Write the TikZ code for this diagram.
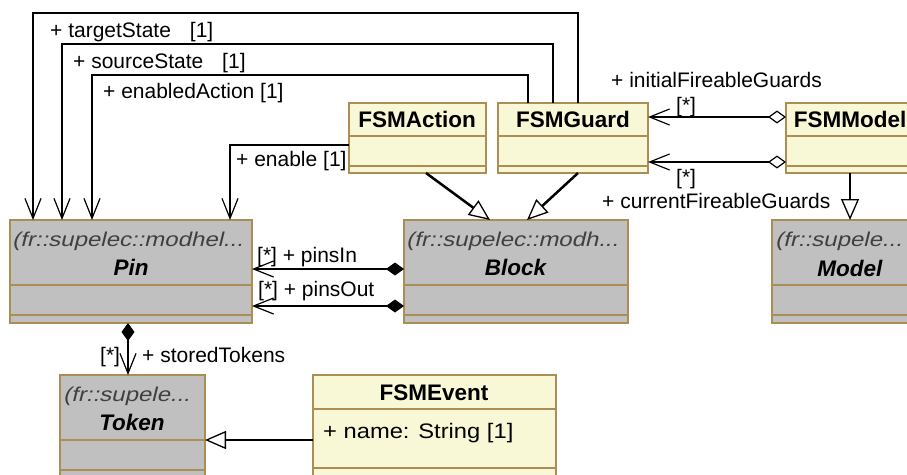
\documentclass[tikz,border=0pt]{standalone}
\usepackage{graphicx}
\usepackage{fontspec}
\setmainfont{Liberation Sans}
\newfontfamily\pkgfont[FakeSlant=0.2]{Liberation Sans}
\usetikzlibrary{arrows.meta,calc}
\definecolor{brd}{RGB}{172,142,84}
\definecolor{gfill}{RGB}{192,192,192}
\definecolor{yfill}{RGB}{248,248,214}
\definecolor{pkgc}{RGB}{64,64,64}
\newcommand\lblfont{\fontsize{21}{24}\selectfont}
\newcommand\namefont{\fontsize{22.5}{26}\selectfont\bfseries}
\newcommand\pkgtxt[1]{\scalebox{1.2}[1]{\pkgfont\fontsize{20}{24}\selectfont #1}}
\begin{document}
\begin{tikzpicture}[x=1pt,y=-1pt,
  box/.style={draw=brd, line width=1.5pt, anchor=north west, inner sep=0pt, outer sep=0pt},
  gbox/.style={box, fill=gfill},
  ybox/.style={box, fill=yfill},
  divl/.style={draw=brd, line width=1.5pt},
  lbl/.style={font=\lblfont, inner sep=0pt, anchor=mid west, yshift=-6pt},
  pkg/.style={inner sep=0pt, anchor=mid west, text=pkgc, yshift=-6pt},
  cname/.style={font=\namefont, inner sep=0pt, anchor=mid, yshift=-6pt},
  vtip/.tip={Straight Barb[length=20pt,width=16pt,line width=1.2pt]},
  assoc/.style={line width=1.2pt, -vtip},
  gen/.style={line width=2.5pt, -{Triangle[open,fill=white,length=21pt,width=18pt,line width=1.3pt]}},
  comp/.style={line width=1.2pt, {Diamond[length=18pt,width=13pt]}-vtip},
  aggr/.style={line width=1.2pt, {Diamond[open,fill=white,length=18pt,width=13pt,line width=1.2pt]}-vtip}
]
\useasboundingbox (0,0) rectangle (907,474);
\clip (0,0) rectangle (907,474);

% class boxes
\node[gbox, minimum width=242pt, minimum height=103pt] (pin) at (10,220) {};
\node[gbox, minimum width=224pt, minimum height=103pt] (block) at (404,220) {};
\node[gbox, minimum width=156pt, minimum height=103pt] (model) at (772,220) {};
\node[gbox, minimum width=145pt, minimum height=115pt] (token) at (60,375) {};
\node[ybox, minimum width=243pt, minimum height=115pt] (event) at (313,375) {};
\node[ybox, minimum width=137pt, minimum height=70pt] (action) at (349,103) {};
\node[ybox, minimum width=150pt, minimum height=70pt] (guard) at (498,103) {};
\node[ybox, minimum width=128pt, minimum height=70pt] (fsmmodel) at (786,103) {};

% compartments
\foreach \n in {pin,block,model,token}{
  \draw[divl] ([yshift=-65pt]\n.north west) -- ([yshift=-65pt]\n.north east);
  \draw[divl] ([yshift=-95pt]\n.north west) -- ([yshift=-95pt]\n.north east);
}
\foreach \n in {action,guard,fsmmodel}{
  \draw[divl] ([yshift=-33pt]\n.north west) -- ([yshift=-33pt]\n.north east);
  \draw[divl] ([yshift=-63pt]\n.north west) -- ([yshift=-63pt]\n.north east);
}
\draw[divl] ([yshift=-34pt]event.north west) -- ([yshift=-34pt]event.north east);
\draw[divl] ([yshift=-93pt]event.north west) -- ([yshift=-93pt]event.north east);

% class texts
\node[pkg] (pinpkg) at (12,238) {\pkgtxt{(fr::supelec::modhel...}};
\node[cname] (pinname) at (131,267) {\textit{Pin}};
\node[pkg] (blockpkg) at (406,238) {\pkgtxt{(fr::supelec::modh...}};
\node[cname] (blockname) at (516,267) {\textit{Block}};
\node[pkg] (modelpkg) at (775,238) {\pkgtxt{(fr::supele...}};
\node[cname] (modelname) at (850,268) {\textit{Model}};
\node[pkg] (tokenpkg) at (63,393) {\pkgtxt{(fr::supele...}};
\node[cname] (tokenname) at (132,422) {\textit{Token}};
\node[cname] (actionname) at (417,119) {FSMAction};
\node[cname] (guardname) at (573,119) {FSMGuard};
\node[cname] (fsmmodelname) at (850,119) {FSMModel};
\node[cname] (eventname) at (434,392) {FSMEvent};
\node[lbl] (eventattr) at (323,430) {\scalebox{1.13}[1]{+ name: String [1]}};

% associations to Pin
\draw[assoc] ([xshift=80pt]guard.north west) -- ++(0,-90) -| ([xshift=23pt]pin.north west);
\draw[assoc] ([xshift=55pt]guard.north west) -- ++(0,-59) -| ([xshift=52pt]pin.north west);
\draw[assoc] ([xshift=30pt]guard.north west) -- ++(0,-28) -| ([xshift=82pt]pin.north west);
\draw[assoc] ([yshift=-42pt]action.north west) -| ([xshift=220pt]pin.north west);
\node[lbl] (l1) at (50,29) {+ targetState\hspace{0.9em}[1]};
\node[lbl] (l2) at (73,60) {+ sourceState\hspace{0.9em}[1]};
\node[lbl] (l3) at (103,90) {+ enabledAction [1]};
\node[lbl] (l4) at (236,158) {+ enable [1]};

% compositions
\draw[comp] ([yshift=-49pt]block.north west) -- ([yshift=-49pt]pin.north east);
\draw[comp] ([yshift=-86pt]block.north west) -- ([yshift=-86pt]pin.north east);
\node[lbl] (l5) at (257,254) {[*] + pinsIn};
\node[lbl] (l6) at (258,288) {[*] + pinsOut};
\draw[comp] ([xshift=118pt]pin.south west) -- ([xshift=68pt]token.north west);
\node[lbl] (l7) at (100,354) {[*]};
\node[lbl] (l8) at (142,354) {+ storedTokens};

% aggregations
\draw[aggr] ([yshift=-14pt]fsmmodel.north west) -- ([yshift=-14pt]guard.north east);
\draw[aggr] ([yshift=-59pt]fsmmodel.north west) -- ([yshift=-59pt]guard.north east);
\node[lbl] (l9) at (611,79) {+ initialFireableGuards};
\node[lbl] (l10) at (676,104) {[*]};
\node[lbl] (l11) at (676,176) {[*]};
\node[lbl] (l12) at (602,200) {+ currentFireableGuards};

% generalizations
\draw[gen] ([xshift=77pt]action.south west) -- ([xshift=86pt]block.north west);
\draw[gen] ([xshift=80pt]guard.south west) -- ([xshift=123pt]block.north west);
\draw[gen] ([xshift=64pt]fsmmodel.south west) -- ([xshift=78pt]model.north west);
\draw[gen] ([yshift=-65pt]event.north west) -- ([yshift=-65pt]token.north east);
\end{tikzpicture}
\end{document}
